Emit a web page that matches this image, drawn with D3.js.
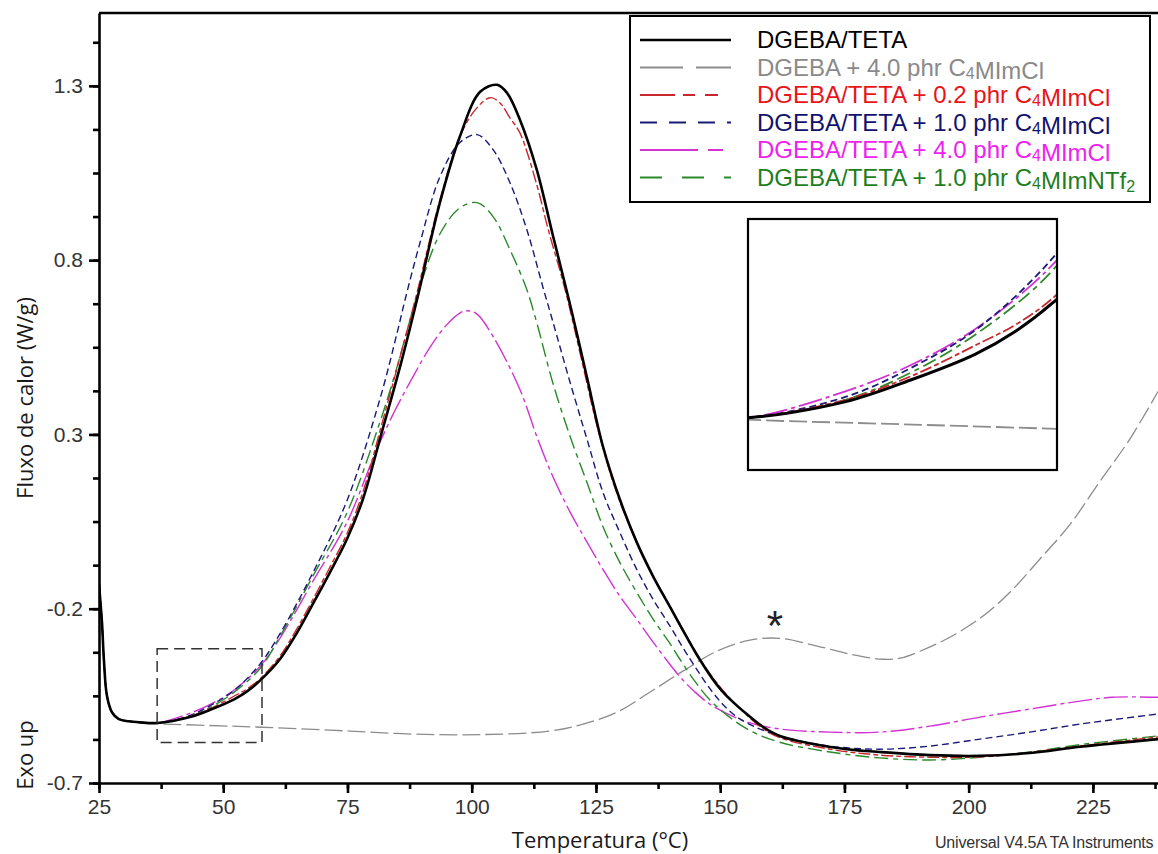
<!DOCTYPE html>
<html>
<head>
<meta charset="utf-8">
<script src="https://cdn.jsdelivr.net/npm/d3@7"></script>
<style>
  body { margin: 0; background: #fff; }
  svg { display: block; }
</style>
</head>
<body>
<svg id="chart" width="1158" height="854"></svg>
<script>
// DSC curves: [temperature (°C), heat flow (W/g)]
const startSegment = [[25.0,-0.13],[25.6,-0.24],[26.0,-0.35],[26.6,-0.45],[27.6,-0.497],[29.0,-0.517],[31.0,-0.523],[33.2,-0.526],[36.7,-0.528]];

const dgebaTeta = startSegment.concat([
  [43.3,-0.511],[47.9,-0.487],[52.2,-0.46],[55.0,-0.435],[57.5,-0.405],[61.4,-0.345],[64.8,-0.27],
  [68.1,-0.185],[71.5,-0.095],[74.9,0.0],[78.1,0.114],[81.9,0.306],[85.6,0.495],[89.0,0.687],
  [93.6,0.965],[97.6,1.154],[101.7,1.283],[105.1,1.303],[107.1,1.280],[109.7,1.203],[113.1,1.059],
  [116.3,0.873],[119.8,0.672],[123.2,0.463],[126.4,0.266],[129.8,0.114],[133.2,-0.009],[136.5,-0.107],
  [139.9,-0.195],[142.5,-0.262],[145.3,-0.332],[148.5,-0.402],[150.3,-0.435],[152.0,-0.46],
  [155.4,-0.503],[158.5,-0.538],[162.0,-0.565],[168.7,-0.588],[175.5,-0.603],[182.1,-0.611],
  [192.2,-0.620],[202.3,-0.622],[212.3,-0.614],[222.4,-0.596],[238.1,-0.574]
]);

const dgeba40 = startSegment.slice(0, 8).concat([
  [36.7,-0.530],[45.0,-0.534],[57.8,-0.540],[75.5,-0.551],[89.0,-0.560],[102.3,-0.561],[115.7,-0.551],
  [122.4,-0.531],[129.2,-0.497],[135.9,-0.439],[142.5,-0.379],[149.3,-0.322],[156.0,-0.290],[162.0,-0.285],
  [169.5,-0.307],[176.1,-0.330],[182.7,-0.345],[186.2,-0.342],[190.2,-0.322],[196.2,-0.282],[202.9,-0.221],
  [208.3,-0.153],[214.3,-0.058],[220.4,0.042],[226.4,0.165],[232.4,0.286],[238.1,0.423]
]);

const teta02 = startSegment.concat([
  [43.3,-0.509],[47.9,-0.483],[52.4,-0.449],[55.0,-0.428],[57.5,-0.400],[61.4,-0.336],[64.8,-0.258],
  [68.1,-0.172],[71.5,-0.08],[74.9,0.015],[78.1,0.134],[81.9,0.329],[85.6,0.523],[89.0,0.707],
  [93.6,0.973],[97.6,1.154],[100.7,1.231],[103.7,1.266],[105.7,1.251],[107.7,1.208],[109.7,1.165],
  [113.1,1.016],[115.3,0.893],[118.8,0.715],[122.2,0.509],[125.4,0.314],[128.8,0.148],[132.2,0.022],
  [135.5,-0.081],[138.9,-0.167],[141.5,-0.233],[144.3,-0.305],[147.5,-0.378],[151.0,-0.442],
  [154.4,-0.492],[158.0,-0.538],[162.0,-0.570],[172.1,-0.603],[182.1,-0.620],[192.2,-0.626],
  [202.3,-0.625],[212.3,-0.612],[222.4,-0.594],[238.1,-0.568]
]);

const teta10 = startSegment.concat([
  [43.3,-0.506],[47.9,-0.474],[52.4,-0.432],[57.5,-0.357],[61.4,-0.272],[68.1,-0.095],[74.9,0.11],
  [81.5,0.400],[85.0,0.592],[86.6,0.687],[89.6,0.850],[93.6,1.039],[97.6,1.137],[101.1,1.160],
  [104.3,1.117],[107.7,1.022],[111.1,0.887],[114.3,0.724],[116.3,0.625],[119.8,0.449],[123.2,0.286],
  [126.4,0.134],[129.8,0.019],[133.2,-0.087],[136.5,-0.173],[139.9,-0.250],[143.3,-0.330],[148.5,-0.440],
  [152.0,-0.495],[155.4,-0.528],[162.0,-0.565],[172.1,-0.594],[182.1,-0.603],[192.2,-0.594],
  [202.3,-0.574],[212.3,-0.554],[222.4,-0.531],[238.1,-0.502]
]);

const teta40 = startSegment.concat([
  [43.3,-0.500],[47.9,-0.471],[52.4,-0.431],[57.5,-0.364],[61.4,-0.285],[68.1,-0.12],[74.9,0.048],
  [80.9,0.257],[84.6,0.37],[88.2,0.466],[91.6,0.55],[95.0,0.615],[97.6,0.648],[99.0,0.655],
  [101.0,0.646],[104.3,0.581],[109.7,0.429],[113.1,0.294],[116.3,0.180],[119.8,0.077],[123.2,-0.009],
  [126.4,-0.087],[129.8,-0.164],[133.2,-0.230],[136.5,-0.296],[139.9,-0.360],[141.9,-0.395],
  [145.0,-0.44],[148.5,-0.479],[155.4,-0.525],[162.0,-0.545],[172.1,-0.554],[182.1,-0.554],[192.2,-0.537],
  [202.3,-0.511],[212.3,-0.488],[222.4,-0.465],[229.0,-0.454],[238.1,-0.454]
]);

const tetaNTf2 = startSegment.concat([
  [43.3,-0.509],[47.9,-0.479],[52.4,-0.437],[57.5,-0.37],[61.4,-0.28],[68.1,-0.105],[74.9,0.075],
  [81.5,0.334],[85.0,0.495],[88.2,0.66],[89.6,0.725],[93.6,0.875],[97.6,0.950],[101.1,0.965],
  [104.3,0.925],[107.7,0.830],[111.1,0.715],[113.1,0.620],[116.3,0.449],[119.8,0.294],[123.2,0.162],
  [126.4,0.036],[129.8,-0.067],[133.2,-0.153],[136.5,-0.230],[139.9,-0.300],[141.9,-0.345],
  [145.0,-0.41],[148.5,-0.470],[155.4,-0.545],[162.0,-0.583],[172.1,-0.611],[182.1,-0.628],[192.2,-0.634],
  [202.3,-0.626],[212.3,-0.611],[222.4,-0.590],[238.1,-0.565]
]);

// legend labels ("_x" marks a subscript character)
const seriesNames = [
  "DGEBA/TETA",
  "DGEBA + 4.0 phr C_4MImCl",
  "DGEBA/TETA + 0.2 phr C_4MImCl",
  "DGEBA/TETA + 1.0 phr C_4MImCl",
  "DGEBA/TETA + 4.0 phr C_4MImCl",
  "DGEBA/TETA + 1.0 phr C_4MImNTf_2"
];
const seriesData = [dgebaTeta, dgeba40, teta02, teta10, teta40, tetaNTf2];

const xTicks = [25, 50, 75, 100, 125, 150, 175, 200, 225];
const yTicks = [-0.7, -0.2, 0.3, 0.8, 1.3];
const zoomT = [36.7, 57.8];       // magnified window, temperature
const zoomY = [-0.584, -0.315];   // magnified window, heat flow

// styles
const lineColors = ["#000000", "#8c8c8c", "#c8282d", "#1a1a78", "#d232d2", "#2a8a2a"];
const textColors = ["#000000", "#8a8a8a", "#e8141a", "#12126e", "#ee22ee", "#1e7e1e"];
const curveDash  = [null, "18,5", "12,3,5,3", "7,4", "24,4,4,4", "14,5,14,5,5,5"];
const legendDash = [null, "43,13", "35,8,12,10,13,40", "17,12", "58,10,15,40", "22,20,22,20,13,40"];
const lineWidths = [2.6, 1.3, 1.4, 1.4, 1.4, 1.4];
const drawOrder = [1, 4, 5, 3, 2, 0];

const svg = d3.select("#chart");
const plot = { left: 99, right: 1158, top: 13, bottom: 783 };

const x = d3.scaleLinear().domain([25, 238.1]).range([plot.left, plot.right]);
const y = d3.scaleLinear().domain([-0.7, 1.509]).range([plot.bottom, plot.top]);

const defs = svg.append("defs");
defs.append("clipPath").attr("id", "plotClip").append("rect")
  .attr("x", plot.left).attr("y", plot.top)
  .attr("width", plot.right - plot.left).attr("height", plot.bottom - plot.top);

const lineGen = (sx, sy) => d3.line().x(d => sx(d[0])).y(d => sy(d[1])).curve(d3.curveCatmullRom.alpha(0.5));

// curves
const curves = svg.append("g").attr("clip-path", "url(#plotClip)");
drawOrder.forEach(i => {
  curves.append("path")
    .attr("d", lineGen(x, y)(seriesData[i]))
    .attr("fill", "none")
    .attr("stroke", lineColors[i])
    .attr("stroke-width", lineWidths[i])
    .attr("stroke-dasharray", curveDash[i])
    .attr("stroke-linejoin", "round");
});

// dashed window marking the magnified region
svg.append("rect")
  .attr("x", x(zoomT[0])).attr("y", y(zoomY[1]))
  .attr("width", x(zoomT[1]) - x(zoomT[0]))
  .attr("height", y(zoomY[0]) - y(zoomY[1]))
  .attr("fill", "none").attr("stroke", "#333").attr("stroke-width", 1.5)
  .attr("stroke-dasharray", "11,6");

// axes
const tickFont = "'Liberation Sans', Arial, sans-serif";
const minorX = d3.range(0, 18).map(i => 25 + i * 12.5);
const minorY = d3.range(0, 18).map(i => -0.7 + i * 0.125);

function styleAxis(g) {
  g.selectAll("path.domain").attr("stroke", "#000").attr("stroke-width", 2.6);
  g.selectAll(".tick line").attr("stroke", "#000").attr("stroke-width", 2.6);
  g.selectAll(".tick text").attr("fill", "#333").style("font-family", tickFont).style("font-size", "21px");
}

svg.append("g").attr("transform", `translate(0,${plot.bottom})`)
  .call(d3.axisBottom(x).tickValues(minorX).tickSize(6).tickSizeOuter(0).tickFormat(""))
  .call(styleAxis);
svg.append("g").attr("transform", `translate(0,${plot.bottom})`)
  .call(d3.axisBottom(x).tickValues(xTicks).tickSize(10).tickSizeOuter(0).tickPadding(6).tickFormat(d => d))
  .call(styleAxis)
  .call(g => g.select("path.domain").remove());

svg.append("g").attr("transform", `translate(${plot.left},0)`)
  .call(d3.axisLeft(y).tickValues(minorY).tickSize(6).tickSizeOuter(0).tickFormat(""))
  .call(styleAxis);
svg.append("g").attr("transform", `translate(${plot.left},0)`)
  .call(d3.axisLeft(y).tickValues(yTicks).tickSize(10).tickSizeOuter(0).tickPadding(6).tickFormat(d => d.toFixed(1)))
  .call(styleAxis)
  .call(g => g.select("path.domain").remove());

// top frame line
svg.append("line")
  .attr("x1", plot.left).attr("x2", plot.right)
  .attr("y1", plot.top).attr("y2", plot.top)
  .attr("stroke", "#000").attr("stroke-width", 2.6);

// axis titles
const titleFont = "'Open Sans', 'Noto Sans', sans-serif";
svg.append("text")
  .attr("x", 600).attr("y", 848)
  .attr("text-anchor", "middle")
  .style("font-family", titleFont).style("font-size", "22px").attr("fill", "#1a1a1a")
  .text("Temperatura (°C)");
svg.append("text")
  .attr("transform", "translate(33,398) rotate(-90)")
  .attr("text-anchor", "middle")
  .style("font-family", titleFont).style("font-size", "22px").attr("fill", "#1a1a1a")
  .text("Fluxo de calor (W/g)");
svg.append("text")
  .attr("transform", "translate(33,755) rotate(-90)")
  .attr("text-anchor", "middle")
  .style("font-family", titleFont).style("font-size", "22px").attr("fill", "#1a1a1a")
  .text("Exo up");

// instrument note
svg.append("text")
  .attr("x", 935).attr("y", 848)
  .style("font-family", tickFont).style("font-size", "16px").attr("fill", "#333")
  .style("letter-spacing", "-0.2px")
  .text("Universal V4.5A TA Instruments");

// marker above the secondary peak
svg.append("text")
  .attr("x", x(161)).attr("y", 640)
  .attr("text-anchor", "middle")
  .style("font-family", tickFont).style("font-size", "42px").attr("fill", "#222")
  .text("*");

// magnified inset
const inset = { left: 748, top: 219, right: 1057, bottom: 470 };
const ix = d3.scaleLinear().domain(zoomT).range([inset.left, inset.right]);
const iy = d3.scaleLinear().domain(zoomY).range([inset.bottom, inset.top]);
defs.append("clipPath").attr("id", "insetClip").append("rect")
  .attr("x", inset.left).attr("y", inset.top)
  .attr("width", inset.right - inset.left).attr("height", inset.bottom - inset.top);
svg.append("rect")
  .attr("x", inset.left).attr("y", inset.top)
  .attr("width", inset.right - inset.left).attr("height", inset.bottom - inset.top)
  .attr("fill", "#fff");
const insetG = svg.append("g").attr("clip-path", "url(#insetClip)");
drawOrder.forEach(i => {
  insetG.append("path")
    .attr("d", lineGen(ix, iy)(seriesData[i]))
    .attr("fill", "none")
    .attr("stroke", lineColors[i])
    .attr("stroke-width", i === 0 ? 3 : 1.8)
    .attr("stroke-dasharray", curveDash[i]);
});
svg.append("rect")
  .attr("x", inset.left).attr("y", inset.top)
  .attr("width", inset.right - inset.left).attr("height", inset.bottom - inset.top)
  .attr("fill", "none").attr("stroke", "#000").attr("stroke-width", 2.2);

// legend
const legend = svg.append("g");
legend.append("rect")
  .attr("x", 630).attr("y", 16).attr("width", 520).attr("height", 186)
  .attr("fill", "#fff").attr("stroke", "#000").attr("stroke-width", 2);
seriesNames.forEach((name, i) => {
  const cy = 40 + i * 27.5;
  legend.append("line")
    .attr("x1", 640).attr("x2", 731).attr("y1", cy).attr("y2", cy)
    .attr("stroke", lineColors[i])
    .attr("stroke-width", i === 0 ? 2.6 : 2)
    .attr("stroke-dasharray", legendDash[i]);
  const t = legend.append("text")
    .attr("x", 757).attr("y", cy + 8)
    .style("font-family", tickFont).style("font-size", "24px")
    .attr("fill", textColors[i]);
  name.split(/(_\w)/).filter(s => s.length).forEach(part => {
    if (part.startsWith("_")) {
      t.append("tspan").attr("dy", 3).style("font-size", "16px").text(part.slice(1));
      t.append("tspan").attr("dy", -3).text("");
    } else {
      t.append("tspan").text(part);
    }
  });
});
</script>
</body>
</html>
